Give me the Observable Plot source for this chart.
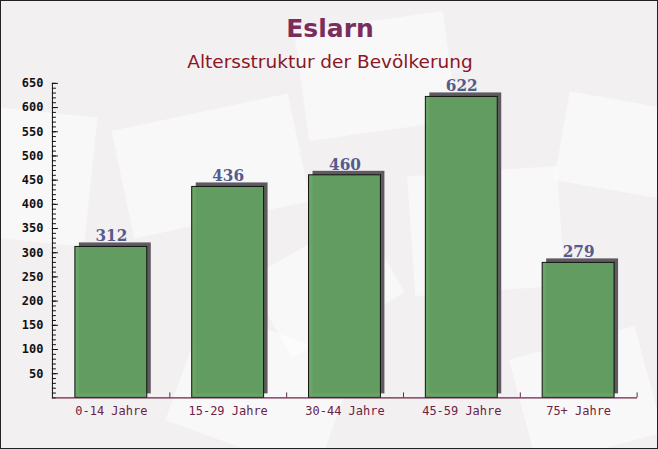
<!DOCTYPE html>
<html>
<head>
<meta charset="utf-8">
<script src="https://cdn.jsdelivr.net/npm/d3@7"></script>
<script src="https://cdn.jsdelivr.net/npm/@observablehq/plot@0.6"></script>
<style>
  html, body { margin: 0; padding: 0; background: #ffffff; }
  #chart {
    position: relative; width: 658px; height: 449px; box-sizing: border-box;
    border: 1px solid #222; overflow: hidden; background: #f3f0f2;
  }
  .bgshape { position: absolute; background: rgba(255,255,255,0.5); }
  #title {
    position: absolute; left: 0; width: 658px; top: 13px; text-align: center;
    font: bold 25px "DejaVu Sans", sans-serif; color: #7b2d5b;
  }
  #subtitle {
    position: absolute; left: 0; width: 658px; top: 50px; text-align: center;
    font: 18.5px "DejaVu Sans", sans-serif; color: #8a1624;
  }
  #plot { position: absolute; left: -1px; top: -1px; }
</style>
</head>
<body>
<div id="chart">
  <div class="bgshape" style="left:300px;top:20px;width:150px;height:110px;transform:rotate(-8deg)"></div>
  <div class="bgshape" style="left:-30px;top:110px;width:120px;height:130px;transform:rotate(6deg)"></div>
  <div class="bgshape" style="left:120px;top:110px;width:180px;height:110px;transform:rotate(-12deg)"></div>
  <div class="bgshape" style="left:410px;top:170px;width:150px;height:120px;transform:rotate(-4deg)"></div>
  <div class="bgshape" style="left:560px;top:100px;width:120px;height:90px;transform:rotate(10deg)"></div>
  <div class="bgshape" style="left:180px;top:330px;width:160px;height:120px;transform:rotate(20deg)"></div>
  <div class="bgshape" style="left:520px;top:340px;width:130px;height:110px;transform:rotate(-15deg)"></div>
  <div class="bgshape" style="left:260px;top:240px;width:130px;height:90px;transform:rotate(-30deg)"></div>
  <div id="plot"></div>
  <div id="title">Eslarn</div>
  <div id="subtitle">Altersstruktur der Bevölkerung</div>
</div>
<script>
const categories = ["0-14 Jahre", "15-29 Jahre", "30-44 Jahre", "45-59 Jahre", "75+ Jahre"];
const values = [312, 436, 460, 622, 279];
const majorTicks = [50, 100, 150, 200, 250, 300, 350, 400, 450, 500, 550, 600, 650];
const minorTicks = d3.range(0, 651, 10);

const data = categories.map((c, i) => ({category: c, value: values[i]}));

const W = 658, H = 449, ML = 52, MR = 20, MT = 83, MB = 51;
const step = (W - ML - MR) / categories.length;
const frameW = W - ML - MR;

const plot = Plot.plot({
  width: W, height: H,
  marginLeft: ML, marginRight: MR, marginTop: MT, marginBottom: MB,
  style: {background: "transparent", overflow: "visible"},
  x: {domain: categories, paddingInner: 0.387, paddingOuter: 0.1935, label: null},
  y: {domain: [0, 650], label: null},
  marks: [
    // shadows
    Plot.barY(data, {x: "category", y: "value", fill: "#5f5a5f", dx: 4, dy: -4}),
    // bars
    Plot.barY(data, {x: "category", y: "value", fill: "#62a060", fillOpacity: 0.95, stroke: "#111", strokeWidth: 1}),
    // value labels
    Plot.text(data, {x: "category", y: "value", text: d => String(d.value), dy: -11,
      fill: "#555b8b", fontFamily: "'DejaVu Serif Condensed', 'DejaVu Serif', serif", fontWeight: "bold", fontSize: 17}),
    // y ticks (inside)
    Plot.tickY(minorTicks, {y: d => d, stroke: "#111", insetRight: frameW - 4}),
    Plot.tickY(majorTicks, {y: d => d, stroke: "#111", insetRight: frameW - 6}),
    Plot.axisY({ticks: majorTicks, tickSize: 0, tickPadding: 9, fontFamily: "DejaVu Sans Mono",
      fontWeight: "bold", fontSize: 12, fill: "#111", label: null}),
    Plot.frame({anchor: "left", stroke: "#111"}),
    // x axis
    Plot.axisX({tickSize: 0, tickPadding: 9, fontFamily: "DejaVu Sans Mono", fontSize: 12, fill: "#6b2346", label: null}),
    Plot.tickX(categories, {x: d => d, dx: step / 2, stroke: "#6b2346", insetTop: (H - MT - MB) - 5}),
    Plot.ruleY([0], {stroke: "#6b2346", strokeWidth: 1.2})
  ]
});
document.getElementById("plot").appendChild(plot);
</script>
</body>
</html>
